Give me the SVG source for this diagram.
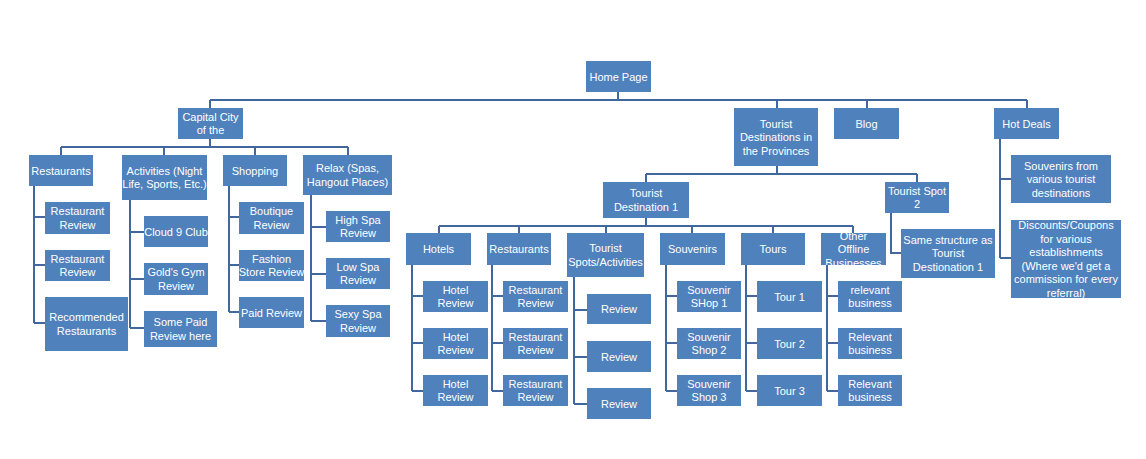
<svg xmlns="http://www.w3.org/2000/svg" width="1146" height="459" viewBox="0 0 1146 459">
<style>
.b{fill:#4F81BD}
.t{fill:#FFFFFF;font-family:"Liberation Sans",Arial,sans-serif;font-size:11px;text-anchor:middle}
.c{fill:none;stroke:#41689E;stroke-width:2}
</style>
<defs>
<clipPath id="clipOther"><rect x="821" y="233" width="65" height="32"/></clipPath>
</defs>
<rect width="1146" height="459" fill="#FFFFFF"/>
<g id="connectors">
<path class="c" d="M618,92V100M210,100H1027M210,100V108M777,100V108M867,100V108M1027,100V108"/>
<path class="c" d="M210,139V147M61,147H348M61,147V155M164,147V155M255,147V155M348,147V155"/>
<path class="c" d="M34,186V323M34,217H45M34,265H45M34,323H45"/>
<path class="c" d="M130,200V328M130,232H144M130,279H144M130,328H144"/>
<path class="c" d="M229,186V312M229,217H239M229,265H239M229,312H239"/>
<path class="c" d="M311,195V321M311,227H326M311,274H326M311,321H326"/>
<path class="c" d="M777,166V174M646,174H917M646,174V182M917,174V182"/>
<path class="c" d="M646,218V226M439,226H853M439,226V233M519,226V233M606,226V233M692,226V233M773,226V233M853,226V233"/>
<path class="c" d="M412,265V391M412,296H423M412,343H423M412,391H423"/>
<path class="c" d="M492,265V391M492,296H503M492,343H503M492,391H503"/>
<path class="c" d="M574,277V404M574,310H587M574,357H587M574,404H587"/>
<path class="c" d="M666,265V391M666,296H677M666,343H677M666,391H677"/>
<path class="c" d="M746,265V391M746,296H757M746,343H757M746,391H757"/>
<path class="c" d="M827,265V391M827,296H838M827,343H838M827,391H838"/>
<path class="c" d="M891,213V253H901"/>
<path class="c" d="M1000,139V258M1000,179H1011M1000,258H1011"/>
</g>
<g id="home"><rect class="b" x="586" y="61" width="65" height="31"/><text class="t"><tspan x="618.5" y="80.5">Home Page</tspan></text></g>
<g id="capital"><rect class="b" x="178" y="108" width="65" height="31"/><text class="t"><tspan x="210.5" y="120.75">Capital City</tspan><tspan x="210.5" y="134.25">of the</tspan></text></g>
<g id="provinces"><rect class="b" x="734" y="108" width="84" height="58"/><text class="t"><tspan x="776" y="127.5">Tourist</tspan><tspan x="776" y="141">Destinations in</tspan><tspan x="776" y="154.5">the Provinces</tspan></text></g>
<g id="blog"><rect class="b" x="834" y="108" width="65" height="31"/><text class="t"><tspan x="866.5" y="127.5">Blog</tspan></text></g>
<g id="hotdeals"><rect class="b" x="994" y="108" width="65" height="31"/><text class="t"><tspan x="1026.5" y="127.5">Hot Deals</tspan></text></g>
<g id="cc-restaurants"><rect class="b" x="29" y="155" width="64" height="31"/><text class="t"><tspan x="61" y="174.5">Restaurants</tspan></text></g>
<g id="cc-activities"><rect class="b" x="122" y="155" width="85" height="45"/><text class="t"><tspan x="164.5" y="174.75">Activities (Night</tspan><tspan x="164.5" y="188.25">Life, Sports, Etc.)</tspan></text></g>
<g id="cc-shopping"><rect class="b" x="223" y="155" width="64" height="31"/><text class="t"><tspan x="255" y="174.5">Shopping</tspan></text></g>
<g id="cc-relax"><rect class="b" x="303" y="155" width="89" height="40"/><text class="t"><tspan x="347.5" y="172.25">Relax (Spas,</tspan><tspan x="347.5" y="185.75">Hangout Places)</tspan></text></g>
<g id="rr1"><rect class="b" x="45" y="202" width="65" height="32"/><text class="t"><tspan x="77.5" y="215.25">Restaurant</tspan><tspan x="77.5" y="228.75">Review</tspan></text></g>
<g id="rr2"><rect class="b" x="45" y="250" width="65" height="31"/><text class="t"><tspan x="77.5" y="262.75">Restaurant</tspan><tspan x="77.5" y="276.25">Review</tspan></text></g>
<g id="recommended"><rect class="b" x="45" y="297" width="83" height="54"/><text class="t"><tspan x="86.5" y="321.25">Recommended</tspan><tspan x="86.5" y="334.75">Restaurants</tspan></text></g>
<g id="cloud9"><rect class="b" x="144" y="216" width="64" height="31"/><text class="t"><tspan x="176" y="235.5">Cloud 9 Club</tspan></text></g>
<g id="goldsgym"><rect class="b" x="144" y="263" width="64" height="32"/><text class="t"><tspan x="176" y="276.25">Gold's Gym</tspan><tspan x="176" y="289.75">Review</tspan></text></g>
<g id="somepaid"><rect class="b" x="144" y="311" width="73" height="36"/><text class="t"><tspan x="180.5" y="326.25">Some Paid</tspan><tspan x="180.5" y="339.75">Review here</tspan></text></g>
<g id="boutique"><rect class="b" x="239" y="202" width="65" height="32"/><text class="t"><tspan x="271.5" y="215.25">Boutique</tspan><tspan x="271.5" y="228.75">Review</tspan></text></g>
<g id="fashion"><rect class="b" x="239" y="250" width="65" height="31"/><text class="t"><tspan x="271.5" y="262.75">Fashion</tspan><tspan x="271.5" y="276.25">Store Review</tspan></text></g>
<g id="paidreview"><rect class="b" x="239" y="297" width="65" height="31"/><text class="t"><tspan x="271.5" y="316.5">Paid Review</tspan></text></g>
<g id="highspa"><rect class="b" x="326" y="211" width="64" height="31"/><text class="t"><tspan x="358" y="223.75">High Spa</tspan><tspan x="358" y="237.25">Review</tspan></text></g>
<g id="lowspa"><rect class="b" x="326" y="258" width="64" height="31"/><text class="t"><tspan x="358" y="270.75">Low Spa</tspan><tspan x="358" y="284.25">Review</tspan></text></g>
<g id="sexyspa"><rect class="b" x="326" y="305" width="64" height="32"/><text class="t"><tspan x="358" y="318.25">Sexy Spa</tspan><tspan x="358" y="331.75">Review</tspan></text></g>
<g id="td1"><rect class="b" x="603" y="182" width="86" height="36"/><text class="t"><tspan x="646" y="197.25">Tourist</tspan><tspan x="646" y="210.75">Destination 1</tspan></text></g>
<g id="ts2"><rect class="b" x="885" y="182" width="64" height="31"/><text class="t"><tspan x="917" y="194.75">Tourist Spot</tspan><tspan x="917" y="208.25">2</tspan></text></g>
<g id="same"><rect class="b" x="901" y="229" width="94" height="49"/><text class="t"><tspan x="948" y="243.5">Same structure as</tspan><tspan x="948" y="257">Tourist</tspan><tspan x="948" y="270.5">Destionation 1</tspan></text></g>
<g id="hotels"><rect class="b" x="406" y="233" width="65" height="32"/><text class="t"><tspan x="438.5" y="253">Hotels</tspan></text></g>
<g id="td-restaurants"><rect class="b" x="487" y="233" width="64" height="32"/><text class="t"><tspan x="519" y="253">Restaurants</tspan></text></g>
<g id="spots"><rect class="b" x="567" y="233" width="77" height="44"/><text class="t"><tspan x="605.5" y="252.25">Tourist</tspan><tspan x="605.5" y="265.75">Spots/Activities</tspan></text></g>
<g id="souvenirs"><rect class="b" x="660" y="233" width="65" height="32"/><text class="t"><tspan x="692.5" y="253">Souvenirs</tspan></text></g>
<g id="tours"><rect class="b" x="741" y="233" width="64" height="32"/><text class="t"><tspan x="773" y="253">Tours</tspan></text></g>
<g id="offline"><rect class="b" x="821" y="233" width="65" height="32"/><text class="t" clip-path="url(#clipOther)"><tspan x="853.5" y="239.5">Other</tspan><tspan x="853.5" y="253">Offline</tspan><tspan x="853.5" y="266.5">Businesses</tspan></text></g>
<g id="hr1"><rect class="b" x="423" y="281" width="65" height="31"/><text class="t"><tspan x="455.5" y="293.75">Hotel</tspan><tspan x="455.5" y="307.25">Review</tspan></text></g>
<g id="hr2"><rect class="b" x="423" y="328" width="65" height="31"/><text class="t"><tspan x="455.5" y="340.75">Hotel</tspan><tspan x="455.5" y="354.25">Review</tspan></text></g>
<g id="hr3"><rect class="b" x="423" y="375" width="65" height="31"/><text class="t"><tspan x="455.5" y="387.75">Hotel</tspan><tspan x="455.5" y="401.25">Review</tspan></text></g>
<g id="tr1"><rect class="b" x="503" y="281" width="65" height="31"/><text class="t"><tspan x="535.5" y="293.75">Restaurant</tspan><tspan x="535.5" y="307.25">Review</tspan></text></g>
<g id="tr2"><rect class="b" x="503" y="328" width="65" height="31"/><text class="t"><tspan x="535.5" y="340.75">Restaurant</tspan><tspan x="535.5" y="354.25">Review</tspan></text></g>
<g id="tr3"><rect class="b" x="503" y="375" width="65" height="31"/><text class="t"><tspan x="535.5" y="387.75">Restaurant</tspan><tspan x="535.5" y="401.25">Review</tspan></text></g>
<g id="sr1"><rect class="b" x="587" y="294" width="64" height="30"/><text class="t"><tspan x="619" y="313">Review</tspan></text></g>
<g id="sr2"><rect class="b" x="587" y="341" width="64" height="31"/><text class="t"><tspan x="619" y="360.5">Review</tspan></text></g>
<g id="sr3"><rect class="b" x="587" y="388" width="64" height="31"/><text class="t"><tspan x="619" y="407.5">Review</tspan></text></g>
<g id="ss1"><rect class="b" x="677" y="281" width="64" height="31"/><text class="t"><tspan x="709" y="293.75">Souvenir</tspan><tspan x="709" y="307.25">SHop 1</tspan></text></g>
<g id="ss2"><rect class="b" x="677" y="328" width="64" height="31"/><text class="t"><tspan x="709" y="340.75">Souvenir</tspan><tspan x="709" y="354.25">Shop 2</tspan></text></g>
<g id="ss3"><rect class="b" x="677" y="375" width="64" height="31"/><text class="t"><tspan x="709" y="387.75">Souvenir</tspan><tspan x="709" y="401.25">Shop 3</tspan></text></g>
<g id="tour1"><rect class="b" x="757" y="281" width="65" height="31"/><text class="t"><tspan x="789.5" y="300.5">Tour 1</tspan></text></g>
<g id="tour2"><rect class="b" x="757" y="328" width="65" height="31"/><text class="t"><tspan x="789.5" y="347.5">Tour 2</tspan></text></g>
<g id="tour3"><rect class="b" x="757" y="375" width="65" height="31"/><text class="t"><tspan x="789.5" y="394.5">Tour 3</tspan></text></g>
<g id="rb1"><rect class="b" x="838" y="281" width="64" height="31"/><text class="t"><tspan x="870" y="293.5">relevant</tspan><tspan x="870" y="306.5">business</tspan></text></g>
<g id="rb2"><rect class="b" x="838" y="328" width="64" height="31"/><text class="t"><tspan x="870" y="340.5">Relevant</tspan><tspan x="870" y="353.5">business</tspan></text></g>
<g id="rb3"><rect class="b" x="838" y="375" width="64" height="31"/><text class="t"><tspan x="870" y="387.5">Relevant</tspan><tspan x="870" y="400.5">business</tspan></text></g>
<g id="souvenirsfrom"><rect class="b" x="1011" y="155" width="100" height="48"/><text class="t"><tspan x="1061" y="169.5">Souvenirs from</tspan><tspan x="1061" y="183">various tourist</tspan><tspan x="1061" y="196.5">destinations</tspan></text></g>
<g id="discounts"><rect class="b" x="1011" y="220" width="110" height="78"/><text class="t"><tspan x="1066" y="229.25">Discounts/Coupons</tspan><tspan x="1066" y="242.75">for various</tspan><tspan x="1066" y="256.25">establishments</tspan><tspan x="1066" y="269.75">(Where we'd get a</tspan><tspan x="1066" y="283.25">commission for every</tspan><tspan x="1066" y="296.75">referral)</tspan></text></g>
</svg>
